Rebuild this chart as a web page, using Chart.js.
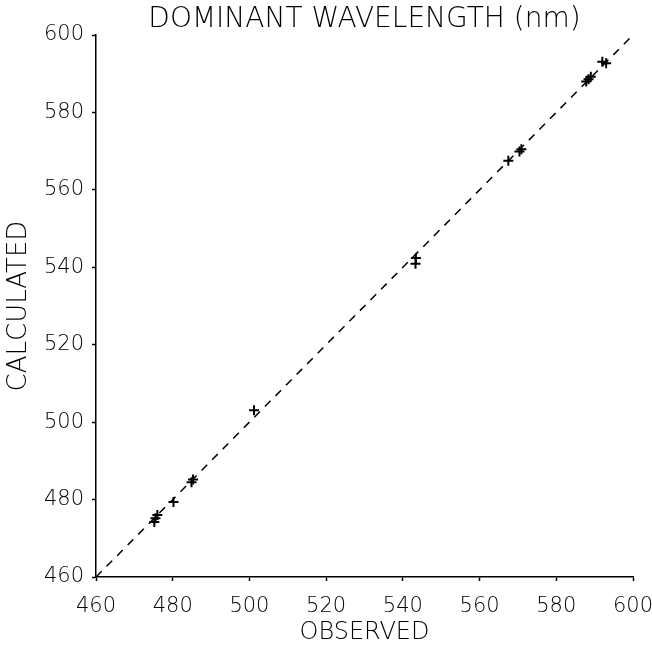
<!DOCTYPE html>
<html>
<head>
<meta charset="utf-8">
<script src="https://cdn.jsdelivr.net/npm/chart.js@4/dist/chart.umd.min.js"></script>
<style>
  html, body { margin: 0; padding: 0; background: #fff; }
  #wrap { width: 652px; height: 648px; }
</style>
</head>
<body>
<div id="wrap"><canvas id="c" width="652" height="648"></canvas></div>
<script>
const chartTitle = "DOMINANT WAVELENGTH (nm)";
const xTitle = "OBSERVED";
const yTitle = "CALCULATED";
const tickValues = [460, 480, 500, 520, 540, 560, 580, 600];
const observed   = [475.2, 475.5, 476.0, 480.2, 484.9, 485.3, 501.2, 543.3, 543.4, 567.5, 570.4, 570.9, 587.8, 588.4, 589.0, 592.0, 593.0];
const calculated = [474.2, 475.2, 476.0, 479.4, 484.5, 485.2, 503.1, 540.9, 542.4, 567.5, 569.9, 570.5, 588.0, 588.6, 589.2, 593.1, 592.7];
const refLineX = [460, 600];
const refLineY = [460, 600];

const FONT = "'DejaVu Sans', sans-serif";
const points = observed.map((x, i) => ({ x: x, y: calculated[i] }));
const refLine = refLineX.map((x, i) => ({ x: x, y: refLineY[i] }));

const titlePlugin = {
  id: 'centeredTitle',
  afterDraw(chart) {
    const ctx = chart.ctx;
    const a = chart.chartArea;
    ctx.save();
    ctx.fillStyle = '#000';
    ctx.font = "300 28px " + FONT;
    ctx.textAlign = 'center';
    ctx.textBaseline = 'middle';
    ctx.fillText(chartTitle, (a.left + a.right) / 2, 20);
    ctx.restore();
  }
};

new Chart(document.getElementById('c'), {
  type: 'scatter',
  data: {
    datasets: [
      {
        type: 'line',
        data: refLine,
        borderColor: '#000',
        borderWidth: 1.5,
        borderDash: [8, 7],
        pointRadius: 0,
        fill: false,
        order: 2
      },
      {
        data: points,
        pointStyle: 'cross',
        pointRadius: 5,
        pointBorderWidth: 2,
        borderColor: '#000',
        backgroundColor: '#000',
        order: 1
      }
    ]
  },
  plugins: [titlePlugin],
  options: {
    responsive: false,
    animation: false,
    layout: { padding: { top: 35, right: 19, bottom: 0, left: 0 } },
    plugins: {
      legend: { display: false },
      tooltip: { enabled: false },
      title: { display: false }
    },
    scales: {
      x: {
        type: 'linear',
        min: 460, max: 600,
        afterBuildTicks: (s) => { s.ticks = tickValues.map(v => ({ value: v })); },
        afterFit: (s) => { s.height = 71; s.paddingLeft = 0; s.paddingRight = 0; },
        border: { display: true, color: '#000', width: 1.5 },
        grid: { display: true, drawOnChartArea: false, drawTicks: true, tickLength: 4, color: '#000', tickWidth: 1.5 },
        ticks: { color: '#000', font: { family: FONT, size: 21, weight: 300 }, padding: 13, maxRotation: 0 },
        title: { display: true, text: xTitle, color: '#000', font: { family: FONT, size: 24, weight: 300, lineHeight: 1.2 }, padding: { top: 0, bottom: 1 } }
      },
      y: {
        type: 'linear',
        min: 460, max: 600,
        afterBuildTicks: (s) => { s.ticks = tickValues.map(v => ({ value: v })); },
        afterFit: (s) => { s.width = 96; s.paddingTop = 0; s.paddingBottom = 0; },
        border: { display: true, color: '#000', width: 1.5 },
        grid: { display: true, drawOnChartArea: false, drawTicks: true, tickLength: 4, color: '#000', tickWidth: 1.5 },
        ticks: { color: '#000', font: { family: FONT, size: 21, weight: 300 }, padding: 8 },
        title: { display: true, text: yTitle, color: '#000', font: { family: FONT, size: 26, weight: 300, lineHeight: 1.2 }, padding: { top: 4, bottom: 0 } }
      }
    }
  }
});
</script>
</body>
</html>
